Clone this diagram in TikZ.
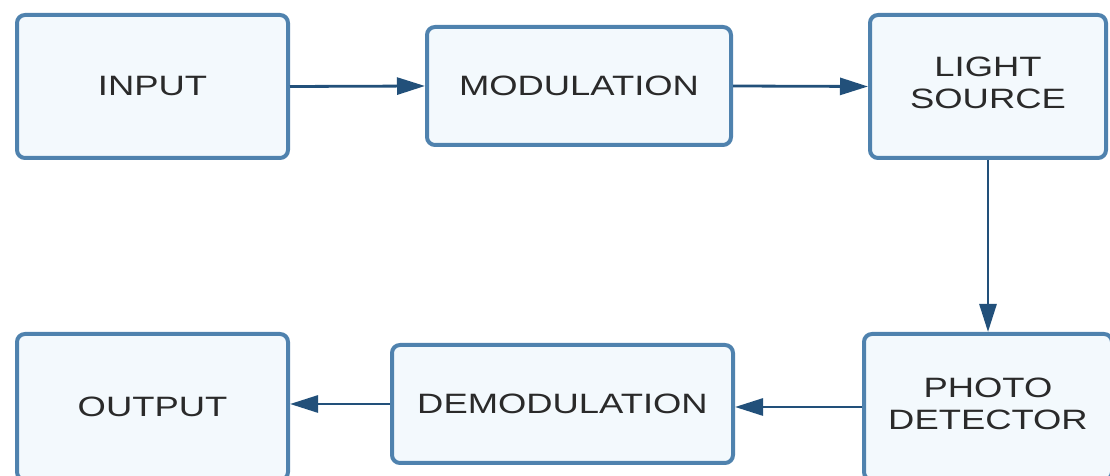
\documentclass[tikz,border=0pt]{standalone}
\usepackage{fontspec}
\setmainfont{Liberation Sans}[FakeStretch=1.3]
\usetikzlibrary{arrows.meta}

\definecolor{boxline}{HTML}{4F82AE}
\definecolor{boxfill}{HTML}{F3F9FD}
\definecolor{flowline}{HTML}{22507A}
\definecolor{labeltext}{HTML}{2A2A2A}

\tikzset{
    block/.style={draw=boxline, fill=boxfill, line width=2pt, rounded corners=4pt,
        align=center, text=labeltext, font=\fontsize{14}{16}\selectfont, inner sep=0pt},
    flow/.style={draw=flowline, line width=1.4pt, -{Triangle[length=14pt, width=8.5pt]}}
}

\begin{document}
\begin{tikzpicture}
    \useasboundingbox (0,0) rectangle (555pt,238pt);

    % top row
    \node[block, minimum width=135.5pt, minimum height=71.5pt] (input) at (76.25pt, 194.75pt) {INPUT};
    \node[block, minimum width=152pt, minimum height=59pt] (modulation) at (289.5pt, 195pt) {MODULATION};
    \node[block, minimum width=118pt, minimum height=71.5pt] (source) at (494pt, 194.75pt) {\raisebox{2pt}{\begin{tabular}{@{}c@{}}LIGHT\\SOURCE\end{tabular}}};

    % bottom row
    \node[block, minimum width=124pt, minimum height=73pt] (detector) at (494pt, 34.5pt) {\raisebox{2.5pt}{\begin{tabular}{@{}c@{}}PHOTO\\DETECTOR\end{tabular}}};
    \node[block, minimum width=170.5pt, minimum height=59pt] (demodulation) at (281.25pt, 36pt) {DEMODULATION};
    \node[block, minimum width=135.5pt, minimum height=73pt] (output) at (76.25pt, 34.5pt) {OUTPUT};

    \draw[flow] (input.east) -- (modulation.west);
    \draw[flow] (modulation.east) -- (source.west);
    \draw[flow] (source.south) -- (detector.north);
    \draw[flow] (detector.west) -- (detector.west -| demodulation.east);
    \draw[flow] (demodulation.west) -- (demodulation.west -| output.east);
\end{tikzpicture}
\end{document}
